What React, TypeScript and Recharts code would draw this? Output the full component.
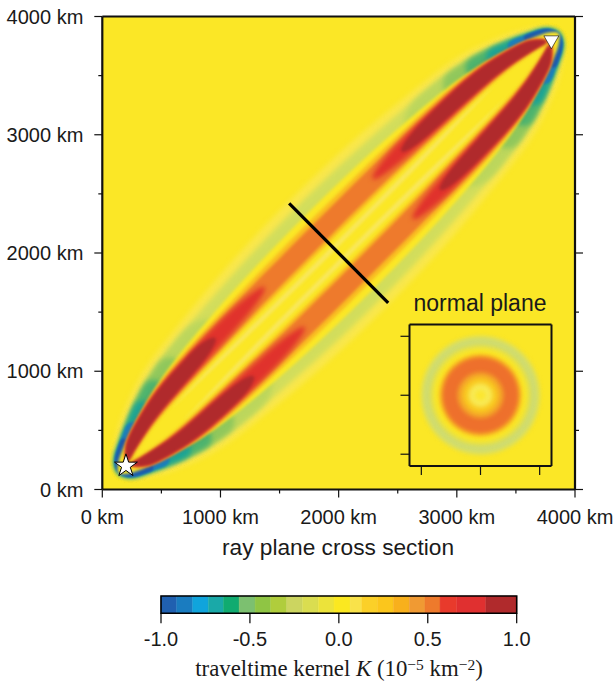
import { CartesianGrid, Scatter, ScatterChart, Symbols, XAxis, YAxis, ZAxis } from 'recharts';

const W = 613;
const H = 685;
const YELLOW = '#fbe726';
const INK = '#111';
const SANS = '"Liberation Sans", Arial, sans-serif';

// ray geometry in km, read from the star and the triangle
const source = { x: 200, y: 200 };
const receiver = { x: 3800, y: 3800 };
const rayLength = 5091;
const crossLine = [{ x: 1581, y: 2420 }, { x: 2419, y: 1579 }];

const majorTicks = [0, 1000, 2000, 3000, 4000];
const allTicks = [0, 500, 1000, 1500, 2000, 2500, 3000, 3500, 4000];

// outer (negative) lobe: distance from the ray, at stations along the ray from the source
const envStations = [-100, -60, 0, 100, 180, 350, 550, 750, 1000, 1500, 2000, 2545];
const haloOuter = [0, 95, 170, 225, 280, 355, 430, 480, 510, 565, 600, 610];
const negOuter = [0, 80, 130, 175, 215, 290, 365, 410, 450, 490, 520, 530];
const negInner = [0, 40, 85, 125, 155, 210, 270, 315, 352, 395, 418, 425];

// the negative lobe gets stronger towards each end
const capEnds = [1500, 1000, 750, 550, 350, 180];
const capColors = ['#bcd65c', '#90c75c', '#4db36e', '#1ca595', '#1a80bb', '#1c5cac'];

// positive lobes: inner and outer edge per level
const lobeStations = [0, 100, 180, 350, 550, 750, 1000, 1500, 2000, 2545];
const goldInner = [0, 30, 45, 75, 95, 105, 110, 115, 120, 122];
const goldOuter = [0, 115, 160, 215, 270, 300, 325, 350, 362, 365];
const orangeInner = [0, 40, 60, 95, 115, 125, 130, 140, 150, 152];
const orangeOuter = [0, 105, 150, 205, 255, 280, 298, 318, 322, 322];
const paleStations = [600, 1000, 1500, 2000, 2545];
const paleInner = [70, 60, 45, 40, 40];
const paleOuter = [72, 85, 85, 80, 80];

const redStations = [0, 100, 180, 350, 550, 750, 1000, 1500, 1800, 1950];
const redInner = [0, 35, 55, 92, 118, 128, 140, 160, 190, 238];
const redOuter = [0, 108, 152, 205, 258, 282, 298, 310, 285, 240];
// the dark core runs further along the ray on the receiver side
const darkNearStations = [0, 100, 180, 350, 550, 750, 1000, 1200, 1350];
const darkFarStations = [0, 100, 180, 350, 550, 750, 1000, 1450, 1620];
const darkInner = [0, 30, 50, 90, 120, 135, 150, 170, 225];
const darkOuter = [0, 110, 155, 205, 252, 275, 285, 290, 230];

// normal plane rings, outermost first: radius in km and colour
const ringRadii = [505, 490, 425, 395, 350, 325, 195, 150, 100, 45];
const ringColors = ['#ece344', '#cfdc70', '#e4e04a', YELLOW, '#f9c020', '#ee702c', '#f4a528', '#f9c920', '#f8ea55', '#fbe630'];
const normalTicks = [-500, 0, 500];

const barEdges = [-1, -0.912, -0.822, -0.734, -0.649, -0.561, -0.471, -0.383, -0.293, -0.205, -0.115, -0.027, 0.063, 0.128, 0.217, 0.306, 0.396, 0.484, 0.569, 0.663, 0.826, 1];
const barColors = ['#2060b0', '#1a7cc0', '#10a4dc', '#1aa9a8', '#10ab70', '#7cc070', '#8fc544', '#b0cd3c', '#ccd560', '#dadd50', '#ece33a', '#fbe820', '#f9e24a', '#fbd028', '#fbc61c', '#f8b01c', '#f09a33', '#ee7a2c', '#e83a2c', '#e03030', '#b02a2c'];
const barTicks = [-1, -0.5, 0, 0.5, 1];

type RayPoint = { s: number; d: number };

const toKm = ({ s, d }: RayPoint) => ({
  x: source.x + (s - d) * Math.SQRT1_2,
  y: source.y + (s + d) * Math.SQRT1_2,
});
const fromFar = (p: RayPoint) => ({ s: rayLength - p.s, d: p.d });
const zip = (s: number[], d: number[]) => s.map((v, i) => ({ s: v, d: d[i] }));

// closed outline around the whole ray, symmetric on both sides
const envelope = (stations: number[], dist: number[]) => {
  const near = zip(stations, dist);
  const side = [...near, ...near.slice(0, -1).reverse().map(fromFar)];
  const other = side.slice(1, -1).reverse().map((p) => ({ s: p.s, d: -p.d }));
  return [...side, ...other].map(toKm);
};

// cap around one end of the ray
const cap = (end: number, far: boolean) => {
  const n = envStations.indexOf(end) + 1;
  const near = zip(envStations.slice(0, n), negOuter.slice(0, n));
  const pts = [...near, ...near.slice(1).reverse().map((p) => ({ s: p.s, d: -p.d }))];
  return (far ? pts.map(fromFar) : pts).map(toKm);
};

// ribbon on one side of the ray running its whole length
const ribbon = (stations: number[], inner: number[], outer: number[], sign: number) => {
  const edge = (dist: number[]) => {
    const near = zip(stations, dist);
    return [...near, ...near.slice(0, -1).reverse().map(fromFar)];
  };
  const pts = [...edge(outer), ...edge(inner).reverse()];
  return pts.map((p) => toKm({ s: p.s, d: sign * p.d }));
};

// lobe patch that starts at one end of the ray and tapers out along it
const patch = (stations: number[], inner: number[], outer: number[], sign: number, far: boolean) => {
  const pts = [...zip(stations, outer), ...zip(stations, inner).slice(1, -1).reverse()];
  const placed = far ? pts.map(fromFar) : pts;
  return placed.map((p) => toKm({ s: p.s, d: sign * p.d }));
};

const both = [1, -1];
const ends = [false, true];

const layers = [
  { fill: '#f9e74c', soft: 'wide', points: envelope(envStations, haloOuter) },
  { fill: '#d2dd5c', soft: 'wide', points: envelope(envStations, negOuter) },
  ...capEnds.flatMap((end, i) => ends.map((far) => ({ fill: capColors[i], soft: i < 4 ? 'wide' : 'tight', points: cap(end, far) }))),
  { fill: YELLOW, soft: 'mid', points: envelope(envStations, negInner) },
  ...both.map((sign) => ({ fill: '#f8e75c', soft: 'mid', points: ribbon(paleStations, paleInner, paleOuter, sign) })),
  ...both.map((sign) => ({ fill: '#f9bd22', soft: 'mid', points: ribbon(lobeStations, goldInner, goldOuter, sign) })),
  ...both.map((sign) => ({ fill: '#ee7a2c', soft: 'mid', points: ribbon(lobeStations, orangeInner, orangeOuter, sign) })),
  ...both.flatMap((sign) => ends.map((far) => ({ fill: '#e0322c', soft: 'wide', points: patch(redStations, redInner, redOuter, sign, far) }))),
  ...both.flatMap((sign) => ends.map((far) => ({ fill: '#b02a2c', soft: 'mid', points: patch(far ? darkFarStations : darkNearStations, darkInner, darkOuter, sign, far) }))),
];

const rings = ringRadii.map((r) => ({ x: 0, y: 0, z: r * r }));
const barCells = barColors.map((fill, i) => ({
  fill,
  points: [
    { x: barEdges[i], y: 0 },
    { x: barEdges[i + 1], y: 0 },
    { x: barEdges[i + 1], y: 1 },
    { x: barEdges[i], y: 1 },
  ],
}));
const barFrame = [{ x: -1, y: 0 }, { x: 1, y: 0 }, { x: 1, y: 1 }, { x: -1, y: 1 }];

const noMark = () => <g />;

const Star = ({ cx, cy }: any) => (
  <Symbols cx={cx} cy={cy} type="star" size={162} fill="#fff" stroke="#000" strokeWidth={1} />
);
const DownTriangle = ({ cx, cy }: any) => (
  <g transform={`rotate(180 ${cx} ${cy})`}>
    <Symbols cx={cx} cy={cy} type="triangle" size={97} fill="#fff" stroke="#000" strokeWidth={0.6} />
  </g>
);

const textStyle = { fontFamily: SANS, fill: '#1a1a1a', fontSize: 20 };
const tickLen = (v: number) => (majorTicks.includes(v) ? 8 : 4);

// one tick mark drawn outward from the frame, with an optional label
const BottomTick = ({ x, y, payload }: any) => (
  <g>
    <line x1={x} x2={x} y1={y} y2={y + tickLen(payload.value)} stroke={INK} strokeWidth={1.2} />
    {majorTicks.includes(payload.value) && (
      <text x={x} y={y + 34} textAnchor="middle" {...textStyle}>{`${payload.value} km`}</text>
    )}
  </g>
);
const LeftTick = ({ x, y, payload }: any) => (
  <g>
    <line x1={x} x2={x - tickLen(payload.value)} y1={y} y2={y} stroke={INK} strokeWidth={1.2} />
    {majorTicks.includes(payload.value) && (
      <text x={x - 19} y={y + 7} textAnchor="end" {...textStyle}>{`${payload.value} km`}</text>
    )}
  </g>
);
const TopTick = ({ x, y, payload }: any) => (
  <line x1={x} x2={x} y1={y} y2={y - tickLen(payload.value)} stroke={INK} strokeWidth={1.2} />
);
const RightTick = ({ x, y, payload }: any) => (
  <line x1={x} x2={x + tickLen(payload.value)} y1={y} y2={y} stroke={INK} strokeWidth={1.2} />
);

const InsetBottom = ({ x, y }: any) => <line x1={x} x2={x} y1={y} y2={y + 9} stroke={INK} strokeWidth={1.2} />;
const InsetTop = ({ x, y }: any) => <line x1={x} x2={x} y1={y} y2={y - 9} stroke={INK} strokeWidth={1.2} />;
const InsetLeft = ({ x, y }: any) => <line x1={x} x2={x - 9} y1={y} y2={y} stroke={INK} strokeWidth={1.2} />;
const InsetRight = ({ x, y }: any) => <line x1={x} x2={x + 9} y1={y} y2={y} stroke={INK} strokeWidth={1.2} />;

const BarTick = ({ x, y, payload }: any) => (
  <g>
    <line x1={x} x2={x} y1={y} y2={y + 10} stroke="#000" strokeWidth={1.2} />
    <text x={x} y={y + 33} textAnchor="middle" {...textStyle}>{payload.value.toFixed(1)}</text>
  </g>
);

const layer: any = { position: 'absolute', left: 0, top: 0 };
const noMargin = { left: 0, right: 0, top: 0, bottom: 0 };

function KernelPanel() {
  const base = {
    axisLine: { stroke: INK, strokeWidth: 2.2 },
    tickLine: false,
    tickSize: 0,
    tickMargin: 0,
    interval: 0 as const,
    type: 'number' as const,
    ticks: allTicks,
    allowDataOverflow: true,
    domain: [0, 4000] as [number, number],
  };
  return (
    <ScatterChart style={layer} width={W} height={H} margin={noMargin}>
      <CartesianGrid fill={YELLOW} horizontal={false} vertical={false} />
      <XAxis {...base} dataKey="x" height={195.5} tick={BottomTick} />
      <YAxis {...base} dataKey="y" width={102.3} tick={LeftTick} />
      <XAxis {...base} xAxisId="top" orientation="top" height={16.5} tick={TopTick} />
      <YAxis {...base} yAxisId="right" orientation="right" width={38} tick={RightTick} />
      {layers.map((l, i) => (
        <Scatter
          key={i}
          className={`kernel-${l.soft}`}
          data={l.points}
          shape={noMark}
          line={{ fill: l.fill, stroke: 'none' }}
          lineJointType="basisClosed"
          isAnimationActive={false}
        />
      ))}
      <Scatter
        data={crossLine}
        shape={noMark}
        line={{ stroke: '#000', strokeWidth: 3.2, fill: 'none' }}
        lineJointType="linear"
        isAnimationActive={false}
      />
      <Scatter data={[source]} shape={Star} isAnimationActive={false} />
      <Scatter data={[receiver]} shape={DownTriangle} isAnimationActive={false} />
    </ScatterChart>
  );
}

function NormalPlane() {
  const base = {
    axisLine: { stroke: INK, strokeWidth: 2 },
    tickLine: false,
    tickSize: 0,
    tickMargin: 0,
    interval: 0 as const,
    type: 'number' as const,
    ticks: normalTicks,
    domain: [-600, 600] as [number, number],
  };
  return (
    <ScatterChart style={layer} width={W} height={H} margin={noMargin}>
      <CartesianGrid fill={YELLOW} horizontal={false} vertical={false} />
      <XAxis {...base} dataKey="x" height={219} tick={InsetBottom} />
      <YAxis {...base} dataKey="y" width={409.5} tick={InsetLeft} />
      <XAxis {...base} xAxisId="top" orientation="top" height={324.5} tick={InsetTop} />
      <YAxis {...base} yAxisId="right" orientation="right" width={61.5} tick={InsetRight} />
      <ZAxis dataKey="z" type="number" domain={[0, 360000]} range={[0, 15837]} />
      {rings.map((r, i) => (
        <Scatter key={i} className="ring" data={[r]} fill={ringColors[i]} isAnimationActive={false} />
      ))}
    </ScatterChart>
  );
}

function ColorBar() {
  return (
    <ScatterChart style={layer} width={W} height={H} margin={{ left: 0, right: 96.3, top: 596, bottom: 0 }}>
      <XAxis
        type="number"
        dataKey="x"
        domain={[-1, 1]}
        ticks={barTicks}
        interval={0}
        height={71.7}
        tickSize={0}
        tickMargin={0}
        axisLine={false}
        tickLine={false}
        tick={BarTick}
      />
      <YAxis type="number" dataKey="y" domain={[0, 1]} width={161} axisLine={false} tickLine={false} tick={false} />
      {barCells.map((c, i) => (
        <Scatter
          key={i}
          data={c.points}
          shape={noMark}
          line={{ fill: c.fill, stroke: c.fill, strokeWidth: 0.4 }}
          lineJointType="linearClosed"
          isAnimationActive={false}
        />
      ))}
      <Scatter
        data={barFrame}
        shape={noMark}
        line={{ fill: 'none', stroke: '#000', strokeWidth: 1.6 }}
        lineJointType="linearClosed"
        isAnimationActive={false}
      />
    </ScatterChart>
  );
}

const caption = (left: number, top: number, size: number, family: string): any => ({
  position: 'absolute',
  left,
  top,
  width: 400,
  marginLeft: -200,
  textAlign: 'center',
  fontSize: size,
  fontFamily: family,
  lineHeight: 1,
  color: '#1a1a1a',
  whiteSpace: 'nowrap',
});
const sup = { fontSize: '0.68em', lineHeight: 0, verticalAlign: '0.42em' };

export default function App() {
  return (
    <div style={{ position: 'absolute', left: 0, top: 0, width: W, height: H, overflow: 'hidden', background: '#fff' }}>
      <style>{`
        .kernel-wide .recharts-scatter-line path { filter: blur(2.6px); }
        .kernel-mid .recharts-scatter-line path { filter: blur(1.6px); }
        .kernel-tight .recharts-scatter-line path { filter: blur(1px); }
        .ring .recharts-symbols { filter: blur(2px); }
      `}</style>
      <KernelPanel />
      <NormalPlane />
      <ColorBar />
      <div style={caption(338, 536, 22.7, SANS)}>ray plane cross section</div>
      <div style={caption(480, 292, 23, SANS)}>normal plane</div>
      <div style={caption(339, 658, 22.8, '"Liberation Serif", "Times New Roman", serif')}>
        traveltime kernel <i>K</i> (10<span style={sup}>−5</span> km<span style={sup}>−2</span>)
      </div>
    </div>
  );
}
